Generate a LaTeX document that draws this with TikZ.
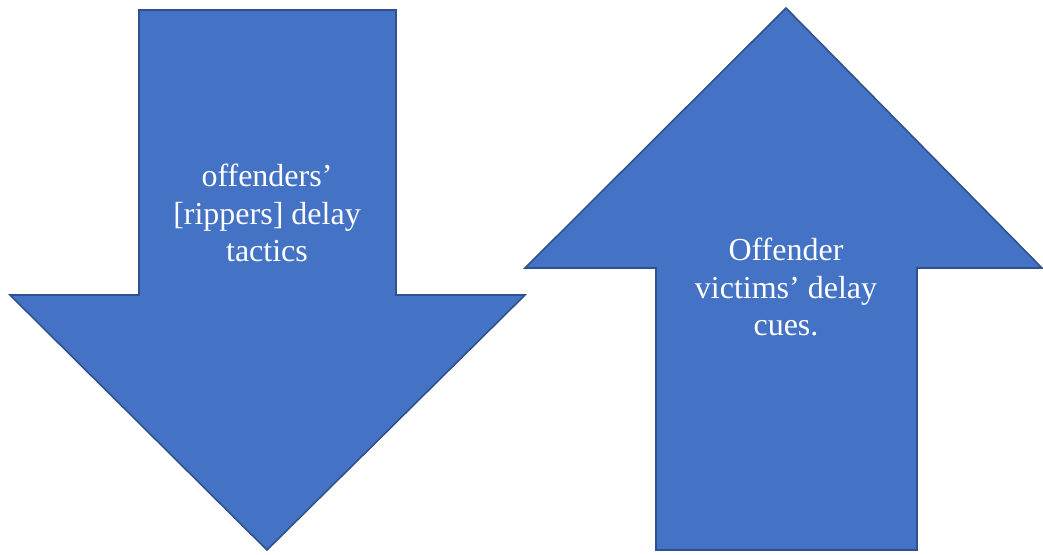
\documentclass[tikz,border=0pt]{standalone}
\usepackage{fontspec}
\setmainfont{Liberation Serif}
\definecolor{arrowblue}{HTML}{4472C4}
\definecolor{arrowedge}{HTML}{2F528F}
\tikzset{bigarrow/.style={fill=arrowblue,draw=arrowedge,line width=1.2pt,line join=miter},
         arrowtext/.style={text=white,align=center,font=\fontsize{24}{27.9}\selectfont,inner sep=0pt}}
\begin{document}
\begin{tikzpicture}[x=0.75pt,y=-0.75pt]
\useasboundingbox(0,0)rectangle(1043,554);
\draw[bigarrow](139,10)--(396,10)--(396,295)--(525,295)--(267,550)--(10,295)--(139,295)--cycle;
\draw[bigarrow](786,8)--(1042,268)--(917,268)--(917,550)--(656,550)--(656,268)--(525,268)--cycle;
\node[arrowtext](tactics)at(267,213){offenders’\\{[}rippers{]} delay\\tactics};
\node[arrowtext](cues)at(786,287){Offender\\victims’ delay\\cues.};
\end{tikzpicture}
\end{document}
